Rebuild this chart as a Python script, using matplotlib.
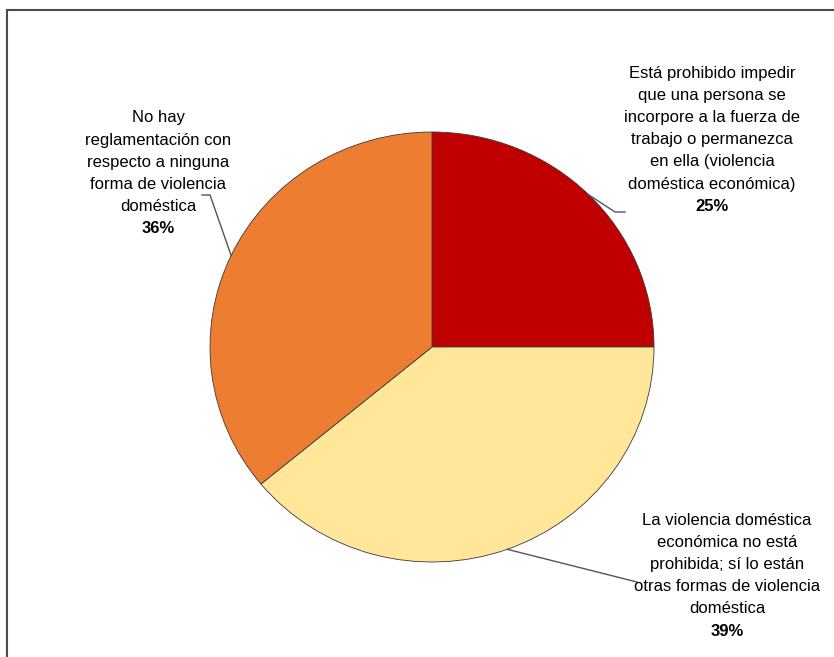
import matplotlib.pyplot as plt
from matplotlib.patches import Rectangle
import numpy as np

plt.rcParams['font.family'] = ['Liberation Sans Narrow', 'Liberation Sans', 'DejaVu Sans']

labels = [
    ['Está prohibido impedir', 'que una persona se', 'incorpore a la fuerza de',
     'trabajo o permanezca', 'en ella (violencia', 'doméstica económica)'],
    ['La violencia doméstica', 'económica no está', 'prohibida; sí lo están',
     'otras formas de violencia', 'doméstica'],
    ['No hay', 'reglamentación con', 'respecto a ninguna',
     'forma de violencia', 'doméstica'],
]
shares = [25, 39, 36]
colors = ['#C00000', '#FFE699', '#ED7D31']

# where each text block is centred (x) and where its first line sits (y)
label_x = [1.261, 1.329, -1.234]
label_top = [1.274, -0.805, 1.066]
# bend points of the leader lines
elbows = [[(0.824, 0.628), (0.869, 0.628)],
          [(0.923, -1.093)],
          [(-1.0, 0.707), (-1.036, 0.707)]]

fig = plt.figure(figsize=(8.34, 6.57), dpi=100)
ax = fig.add_axes([0, 0, 1, 1])

wedges, _ = ax.pie(shares, colors=colors, startangle=90, counterclock=False,
                   wedgeprops=dict(edgecolor='#3a3a3a', linewidth=0.6))
ax.set_aspect('auto')
ax.set_xlim(-432 / 222, (834 - 432) / 222)
ax.set_ylim(-(657 - 347) / 215, 347 / 215)
ax.axis('off')

step = 22.2 / 215
for w, lines, pct, lx, ly, bends in zip(wedges, labels, shares, label_x, label_top, elbows):
    mid = np.deg2rad((w.theta1 + w.theta2) / 2)
    xs = [np.cos(mid)] + [p[0] for p in bends]
    ys = [np.sin(mid)] + [p[1] for p in bends]
    ax.plot(xs, ys, color='#555555', lw=1.0)
    for i, s in enumerate(lines):
        ax.text(lx, ly - i * step, s, ha='center', va='center', fontsize=12, color='black')
    ax.text(lx, ly - len(lines) * step, f'{pct}%', ha='center', va='center',
            fontsize=12, fontweight='bold', color='black')

# chart-area frame (right and bottom edges fall outside the image)
fig.patches.append(Rectangle((6.5 / 834, -0.1), 1.2, 1.1 - 10 / 657,
                             transform=fig.transFigure, fill=False,
                             edgecolor='#4a4a4a', linewidth=1.5))

fig.savefig('out.png', dpi=100)
